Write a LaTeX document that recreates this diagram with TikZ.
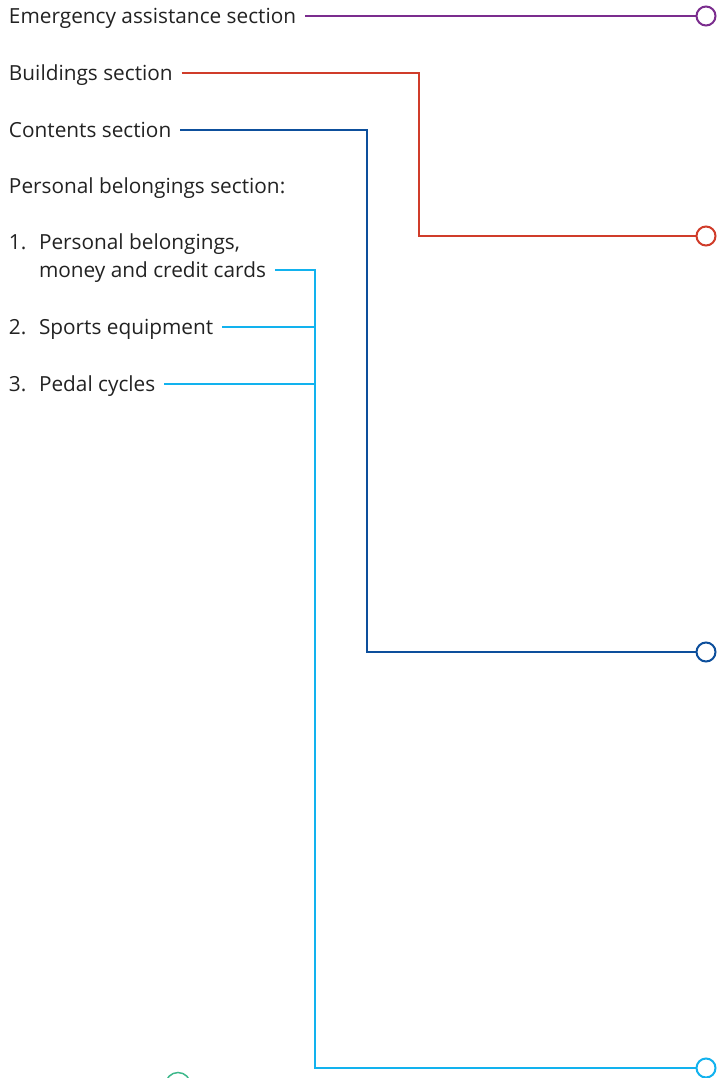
\documentclass[tikz,border=0pt]{standalone}
\usepackage{fontspec}
\setmainfont{Open Sans}
\definecolor{cpurple}{HTML}{7B2D8E}
\definecolor{cred}{HTML}{D03C2A}
\definecolor{cblue}{HTML}{0D4F9C}
\definecolor{ccyan}{HTML}{12B2EE}
\definecolor{cgreen}{HTML}{3DB88B}
\definecolor{ctext}{HTML}{222222}
\begin{document}
\begin{tikzpicture}[x=1pt,y=-1pt,
  lbl/.style={anchor=west,inner sep=0pt,outer sep=0pt,text height=14.5pt,text depth=0pt,font=\fontsize{20.8}{24}\selectfont,text=ctext},
  endc/.style={circle,draw,line width=2pt,minimum size=19pt,inner sep=0pt,fill=white},
  wire/.style={line width=2pt,shorten <=9pt}]
\useasboundingbox (0,0) rectangle (721,1078);
\clip (0,0) rectangle (721,1078);
% labels
\node[lbl] (ea) at (9,16) {Emergency assistance section};
\node[lbl] (bs) at (9,73) {Buildings section};
\node[lbl] (cs) at (9,130) {Contents section};
\node[lbl] (pb) at (9,186) {Personal belongings section:};
\node[lbl] (n1) at (9,242) {1.};
\node[lbl] (t1a) at (39,242) {Personal belongings,};
\node[lbl] (t1b) at (39,270) {money and credit cards};
\node[lbl] (n2) at (9,327) {2.};
\node[lbl] (t2) at (39,327) {Sports equipment};
\node[lbl] (n3) at (9,384) {3.};
\node[lbl] (t3) at (39,384) {Pedal cycles};
% end circles
\node[endc,draw=cpurple] (ce) at (706,16) {};
\node[endc,draw=cred] (cb) at (706,236) {};
\node[endc,draw=cblue] (cc) at (706,652) {};
\node[endc,draw=ccyan] (cp) at (706,1068) {};
\node[endc,draw=cgreen,line width=1.5pt,minimum size=25pt] (cg) at (178,1085) {};
% corners
\coordinate (kb1) at (419,73);
\coordinate (kb2) at (419,236);
\coordinate (kc1) at (367,130);
\coordinate (kc2) at (367,652);
\coordinate (kp1) at (315,272);
\coordinate (kp2) at (315,327);
\coordinate (kp3) at (315,384);
\coordinate (kp4) at (315,1068);
% wires
\draw[wire,cpurple] (ea.east) -- (ce.west);
\draw[wire,cred] (bs.east) -- (kb1) -- (kb2) -- (cb.west);
\draw[wire,cblue] (cs.east) -- (kc1) -- (kc2) -- (cc.west);
\draw[wire,ccyan] (t1b.east) -- (t1b.east -| kp1) -- (kp4) -- (cp.west);
\draw[wire,ccyan] (t2.east) -- (kp2);
\draw[wire,ccyan] (t3.east) -- (kp3);
\end{tikzpicture}
\end{document}
